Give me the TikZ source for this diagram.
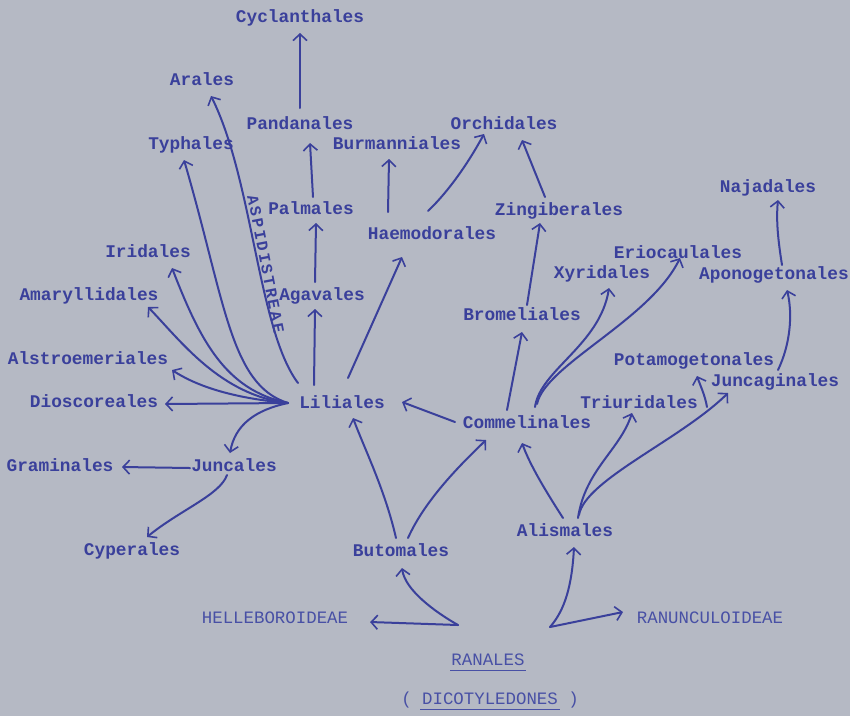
\documentclass[tikz,border=0pt]{standalone}
\usepackage{fontspec}
\newfontfamily\tw{Liberation Mono}
\newfontfamily\twsp{Liberation Mono}[LetterSpace=14]
\usetikzlibrary{arrows.meta,calc}
\definecolor{paper}{RGB}{181,185,196}
\definecolor{ink}{RGB}{58,64,155}
\definecolor{inklight}{RGB}{72,80,165}
\begin{document}
\begin{tikzpicture}[x=1pt,y=-1pt,
  lbl/.style={font=\tw\bfseries\fontsize{17.8}{20}\selectfont, text=ink, inner sep=1pt, text height=11pt, text depth=3pt},
  caplbl/.style={font=\tw\fontsize{17.4}{20}\selectfont, text=inklight, inner sep=1pt, text height=11pt, text depth=3pt},
  edge/.style={draw=ink, line width=2pt, line cap=round, -{Straight Barb[length=6.5pt,width=14pt,line width=1.6pt]}},
  uline/.style={draw=inklight, line width=1.3pt}]
\fill[paper] (0,0) rectangle (850,716);
\useasboundingbox (0,0) rectangle (850,716);
% nodes
\node[lbl] (cyc) at (300,18) {Cyclanthales};
\node[lbl] (ara) at (202,81) {Arales};
\node[lbl] (pan) at (300,125) {Pandanales};
\node[lbl] (typ) at (191,145) {Typhales};
\node[lbl] (bur) at (397,145) {Burmanniales};
\node[lbl] (orc) at (504,125) {Orchidales};
\node[lbl] (pal) at (311,210) {Palmales};
\node[lbl] (hae) at (432,235) {Haemodorales};
\node[lbl] (zin) at (559,211) {Zingiberales};
\node[lbl] (naj) at (768,188) {Najadales};
\node[lbl] (iri) at (148,253) {Iridales};
\node[lbl] (eri) at (678,254) {Eriocaulales};
\node[lbl] (xyr) at (602,274) {Xyridales};
\node[lbl] (apo) at (774,275) {Aponogetonales};
\node[lbl] (ama) at (89,296) {Amaryllidales};
\node[lbl] (aga) at (322,296) {Agavales};
\node[lbl] (bro) at (522,316) {Bromeliales};
\node[lbl] (als) at (88,360) {Alstroemeriales};
\node[lbl] (pot) at (694,361) {Potamogetonales};
\node[lbl] (jcg) at (775,382) {Juncaginales};
\node[lbl] (dio) at (94,403) {Dioscoreales};
\node[lbl] (lil) at (342,404) {Liliales};
\node[lbl] (tri) at (639,404) {Triuridales};
\node[lbl] (com) at (527,424) {Commelinales};
\node[lbl] (gra) at (60,467) {Graminales};
\node[lbl] (jun) at (234,467) {Juncales};
\node[lbl] (cyp) at (132,551) {Cyperales};
\node[lbl] (but) at (401,552) {Butomales};
\node[lbl] (ali) at (565,532) {Alismales};
\node[caplbl] (hel) at (275,619) {HELLEBOROIDEAE};
\node[caplbl] (ran) at (710,619) {RANUNCULOIDEAE};
\node[caplbl] (rnl) at (488,661) {RANALES};
\node[caplbl] (dic) at (490,700) {( DICOTYLEDONES )};
\node[lbl, font=\twsp\bfseries\fontsize{16}{18}\selectfont, rotate=-79, text height=10pt, text depth=1pt] (asp) at (265,264) {ASPIDISTREAE};
% helper coordinates
\coordinate (lf) at ($(lil)+(-54,-1)$);
\coordinate (pb) at (707,407);
\coordinate (hj) at (458,625);
\coordinate (rj) at (550,627);
% edges
\draw[edge] ($(pan)+(0,-17)$) -- ($(cyc)+(0,15)$);
\draw[edge] ($(lil)+(-44,-21)$) .. controls (258,330) and (253,180) .. ($(ara)+(9,15)$);
\draw[edge] (lf) .. controls (230,385) and (225,300) .. ($(typ)+(-7,15)$);
\draw[edge] (lf) .. controls (225,390) and (200,340) .. ($(iri)+(24,15)$);
\draw[edge] (lf) .. controls (220,395) and (180,340) .. ($(ama)+(59,11)$);
\draw[edge] (lf) .. controls (230,398) and (195,385) .. ($(als)+(84,10)$);
\draw[edge] (lf) -- ($(dio)+(71,1)$);
\draw[edge] (lf) .. controls (255,410) and (235,425) .. ($(jun)+(-4,-14)$);
\draw[edge] ($(lil)+(-28,-19)$) -- ($(aga)+(-7,13)$);
\draw[edge] ($(aga)+(-7,-14)$) -- ($(pal)+(5,13)$);
\draw[edge] ($(pal)+(2,-13)$) -- ($(pan)+(10,18)$);
\draw[edge] ($(lil)+(6,-26)$) -- ($(hae)+(-30,22)$);
\draw[edge] ($(hae)+(-44,-23)$) -- ($(bur)+(-8,14)$);
\draw[edge] ($(hae)+(-4,-24)$) .. controls (450,190) and (470,160) .. ($(orc)+(-20,9)$);
\draw[edge] ($(zin)+(-14,-14)$) -- ($(orc)+(18,15)$);
\draw[edge] ($(bro)+(5,-11)$) -- ($(zin)+(-19,12)$);
\draw[edge] ($(com)+(-20,-14)$) -- ($(bro)+(0,16)$);
\draw[edge] ($(com)+(8,-17)$) .. controls (540,370) and (600,345) .. ($(xyr)+(7,14)$);
\draw[edge] ($(com)+(10,-20)$) .. controls (545,365) and (650,320) .. ($(eri)+(2,4)$);
\draw[edge] ($(com)+(-72,-2)$) -- ($(lil)+(60,-2)$);
\draw[edge] ($(but)+(-5,-14)$) .. controls (385,490) and (365,450) .. ($(lil)+(11,14)$);
\draw[edge] ($(but)+(7,-14)$) .. controls (425,500) and (460,465) .. ($(com)+(-41,16)$);
\draw[edge] ($(ali)+(-2,-14)$) .. controls (545,490) and (530,465) .. ($(com)+(-5,19)$);
\draw[edge] ($(ali)+(13,-14)$) .. controls (585,470) and (620,450) .. ($(tri)+(-7,9)$);
\draw[edge] ($(ali)+(14,-17)$) .. controls (585,480) and (680,440) .. ($(jcg)+(-47,11)$);
\draw[edge] (pb) .. controls (705,395) and (700,385) .. ($(pot)+(3,15)$);
\draw[edge] ($(pot)+(84,9)$) .. controls (790,345) and (793,315) .. ($(apo)+(13,15)$);
\draw[edge] ($(apo)+(8,-10)$) .. controls (778,240) and (776,220) .. ($(naj)+(10,12)$);
\draw[edge] ($(jun)+(-44,1)$) -- ($(gra)+(62,0)$);
\draw[edge] ($(jun)+(-7,8)$) .. controls (220,495) and (180,510) .. ($(cyp)+(15,-14)$);
\draw[edge] (hj) .. controls (435,612) and (405,590) .. ($(but)+(1,16)$);
\draw[edge] (hj) -- ($(hel)+(95,3)$);
\draw[edge] (rj) .. controls (565,610) and (572,585) .. ($(ali)+(9,15)$);
\draw[edge] (rj) -- ($(ran)+(-87,-7)$);
% underlines
\draw[uline] ($(rnl.south west)+(0,1)$) -- ($(rnl.south east)+(0,1)$);
\draw[uline] ($(dic.south west)+(20,1)$) -- ($(dic.south east)+(-20,1)$);
\end{tikzpicture}
\end{document}
